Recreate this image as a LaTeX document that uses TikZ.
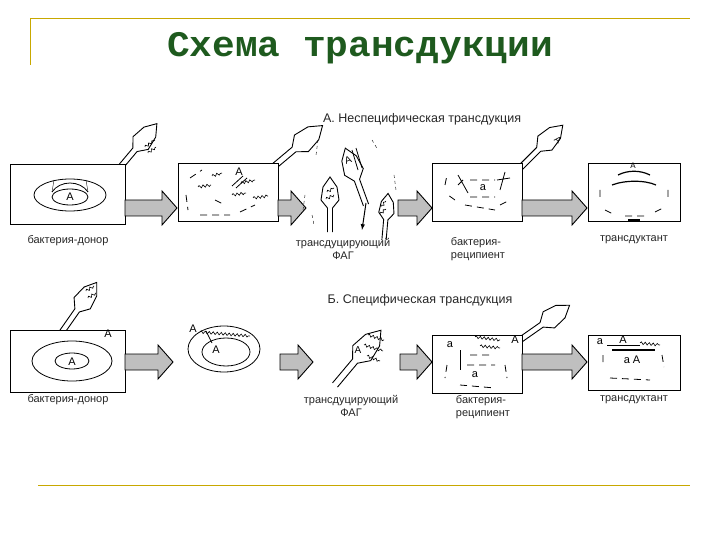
\documentclass[tikz,border=0pt]{standalone}
\usepackage{fontspec}
\setmainfont{Liberation Sans}
\newfontfamily\titlefont{Liberation Mono}
\usetikzlibrary{decorations.pathmorphing}
\definecolor{gold}{HTML}{C8A800}
\definecolor{ttl}{HTML}{1E5A1E}
\newcommand\barrow[3]{\draw[line width=0.9pt,fill=gray!50] (#1,#3-8)--(#2-15,#3-8)--(#2-15,#3-17)--(#2,#3)--(#2-15,#3+17)--(#2-15,#3+8)--(#1,#3+8)--cycle;}
\tikzset{
 bact/.style={draw,line width=1pt,fill=white},
 lbl/.style={font=\fontsize{11}{13}\selectfont,align=center,text=black!85},
 hdr/.style={font=\fontsize{12.5}{14}\selectfont,text=black!85},
 wig/.style={decorate,decoration={snake,amplitude=1.3pt,segment length=4pt},line width=0.6pt},
 dsh/.style={dashed,line width=0.8pt,dash pattern=on 7pt off 5pt},
 phage/.pic={\draw[line width=0.9pt,fill=white] (-2.5,0)--(-2.5,-24)--(-9,-32)--(-7,-45)--(0,-55)--(7,-45)--(9,-32)--(2.5,-24)--(2.5,0);}
}
\begin{document}
\begin{tikzpicture}[x=1pt,y=-1pt]
\useasboundingbox (0,0) rectangle (720,540);
% frame
\draw[gold,line width=0.8pt] (30,18)--(690,18) (30,18)--(30,65) (38,485)--(690,485);
\node[font=\titlefont\bfseries\fontsize{36}{40}\selectfont,text=ttl,xscale=1.05] (title) at (360,48) {Схема трансдукции};
% headers
\node[hdr] (hA) at (422,119) {А. Неспецифическая трансдукция};
\node[hdr] (hB) at (420,300) {Б. Специфическая трансдукция};
% ===== Row A =====
\pic[rotate=-40,scale=1.1] at (118,170) {phage};
\draw[wig] (145,147)--(155,140); \draw[wig] (148,153)--(156,147);
\node[bact,minimum width=115pt,minimum height=60pt,inner sep=0] (a1) at (68,195) {};
\draw[line width=0.8pt] (70,195) ellipse (36 and 16);
\draw[line width=0.8pt] (70,197) ellipse (18 and 8);
\draw[line width=0.8pt] (52,192) .. controls (60,180) and (80,180) .. (88,192);
\draw (54,180)--(52,192) (86,180)--(88,192);
\node[font=\fontsize{11}{12}\selectfont] (tA1) at (70,197) {А};
\barrow{125}{177}{208}
\pic[rotate=-50,scale=1.2] at (272,168) {phage};
\node[bact,minimum width=100pt,minimum height=58pt,inner sep=0] (a2) at (228,193) {};
\node[font=\fontsize{11}{12}\selectfont] (tA2) at (239,172) {А};
\draw[wig] (241,183)--(255,180); \draw[wig] (198,187)--(211,185); \draw[wig] (232,195)--(246,193);
\draw[wig] (253,198)--(268,196); \draw[wig] (212,176)--(222,173);
\draw[dsh] (190,178)--(202,170) (186,195)--(188,210) (200,215)--(230,215) (240,212)--(255,205) (215,200)--(225,205);
\draw[line width=0.8pt] (232,186)--(243,176) (236,188)--(247,178);
\barrow{278}{306}{208}
% phage cluster
\pic at (330,232) {phage};
\draw[wig] (327,192)--(334,188); \draw[wig] (326,199)--(334,195);
\pic[rotate=20,scale=1.1] at (366,205) {phage};
\node[font=\fontsize{10}{11}\selectfont,rotate=20] (tA3) at (348,160) {А};
\draw[line width=0.8pt] (352,150)--(358,170) (356,148)--(362,168);
\pic[rotate=-5,scale=0.85] at (384,240) {phage};
\draw[wig] (381,207)--(386,201); \draw[wig] (380,214)--(386,209);
\draw[-latex,line width=1pt] (366,203)--(362,230);
\draw[dashed] (318,140)--(316,155) (372,140)--(378,150) (305,195)--(303,210) (394,175)--(396,190) (312,215)--(314,225);
\barrow{398}{432}{208}
\pic[rotate=-45,scale=1.1] at (520,168) {phage};
\node[font=\fontsize{9}{10}\selectfont,rotate=-40] (tA4) at (558,140) {А};
\node[bact,minimum width=90pt,minimum height=58pt,inner sep=0] (a3) at (477,193) {};
\node[font=\fontsize{11}{12}\selectfont] (ta3) at (483,188) {а};
\draw[line width=0.8pt] (458,175)--(468,193) (458,185)--(463,180) (505,172)--(500,190) (497,180)--(510,178);
\draw[dsh] (470,180)--(495,180) (470,197)--(495,197) (465,205)--(495,210) (455,200)--(448,195) (500,205)--(510,200) (445,185)--(447,175);
\barrow{522}{587}{208}
\node[bact,minimum width=92pt,minimum height=58pt,inner sep=0] (a4) at (634,193) {};
\node[font=\fontsize{8}{9}\selectfont] (tA5) at (633,166) {А};
\draw[line width=1.2pt] (618,175) .. controls (628,170) and (640,170) .. (650,175);
\draw[line width=1.2pt] (612,185) .. controls (625,180) and (645,180) .. (656,185);
\draw[dsh] (600,190)--(600,200) (668,190)--(668,200) (605,210)--(615,215) (625,216)--(645,216) (655,212)--(665,207);
\draw[line width=1.2pt] (628,220)--(640,220);
\node[lbl] (lA1) at (68,241) {бактерия-донор};
\node[lbl] (lA2) at (343,249) {трансдуцирующий\\ФАГ};
\node[lbl,align=left] (lA3) at (478,249) {бактерия-\\реципиент};
\node[lbl] (lA4) at (634,240) {трансдуктант};
% ===== Row B =====
\pic[rotate=-35,scale=1.1] at (62,332) {phage};
\draw[wig] (86,291)--(94,286); \draw[wig] (88,298)--(96,293);
\node[bact,minimum width=115pt,minimum height=62pt,inner sep=0] (b1) at (68,361) {};
\draw[line width=0.8pt] (72,361) ellipse (40 and 20);
\draw[line width=0.8pt] (72,361) ellipse (17 and 8);
\node[font=\fontsize{11}{12}\selectfont] (tB1) at (72,362) {А};
\node[font=\fontsize{11}{12}\selectfont] (tB2) at (108,334) {А};
\barrow{125}{173}{362}
\draw[line width=0.8pt] (224,349) ellipse (36 and 23);
\draw[line width=0.8pt] (226,352) ellipse (24 and 14);
\draw[wig] (200,332)--(250,336);
\draw[line width=0.8pt] (206,331)--(212,343);
\node[font=\fontsize{11}{12}\selectfont] (tB3) at (193,329) {А};
\node[font=\fontsize{11}{12}\selectfont] (tB4) at (216,350) {А};
\barrow{280}{313}{362}
\pic[rotate=-40,scale=1.3] at (335,385) {phage};
\draw[wig] (368,335)--(384,340); \draw[wig] (364,345)--(383,351); \draw[wig] (367,356)--(380,361);
\node[font=\fontsize{10}{11}\selectfont] (tB5) at (358,350) {А};
\barrow{400}{432}{362}
\pic[rotate=-55,scale=1.1] at (520,340) {phage};
\node[bact,minimum width=90pt,minimum height=58pt,inner sep=0] (b3) at (477,364) {};
\node[font=\fontsize{11}{12}\selectfont] (tb1) at (450,345) {а};
\node[font=\fontsize{11}{12}\selectfont] (tb2) at (515,340) {А};
\node[font=\fontsize{11}{12}\selectfont] (tb3) at (475,375) {а};
\draw[wig] (475,337)--(500,340); \draw[wig] (480,346)--(500,348);
\draw[line width=0.8pt] (460,350)--(460,370);
\draw[dsh] (470,355)--(490,355) (467,365)--(495,365) (447,365)--(445,378) (505,365)--(507,378) (460,385)--(495,388);
\barrow{522}{587}{362}
\node[bact,minimum width=92pt,minimum height=55pt,inner sep=0] (b4) at (634,363) {};
\node[font=\fontsize{11}{12}\selectfont] (tb4) at (600,342) {а};
\node[font=\fontsize{11}{12}\selectfont] (tb5) at (623,340) {А};
\draw[line width=0.8pt] (607,345)--(640,345); \draw[wig] (640,343)--(660,345);
\draw[line width=1.2pt] (612,350)--(655,350);
\node[font=\fontsize{11}{12}\selectfont] (tb6) at (632,360) {а А};
\draw[dsh] (603,355)--(603,367) (662,355)--(664,367) (610,378)--(650,380);
\node[lbl] (lB1) at (68,400) {бактерия-донор};
\node[lbl] (lB2) at (351,406) {трансдуцирующий\\ФАГ};
\node[lbl,align=left] (lB3) at (483,407) {бактерия-\\реципиент};
\node[lbl] (lB4) at (634,400) {трансдуктант};
\end{tikzpicture}
\end{document}
